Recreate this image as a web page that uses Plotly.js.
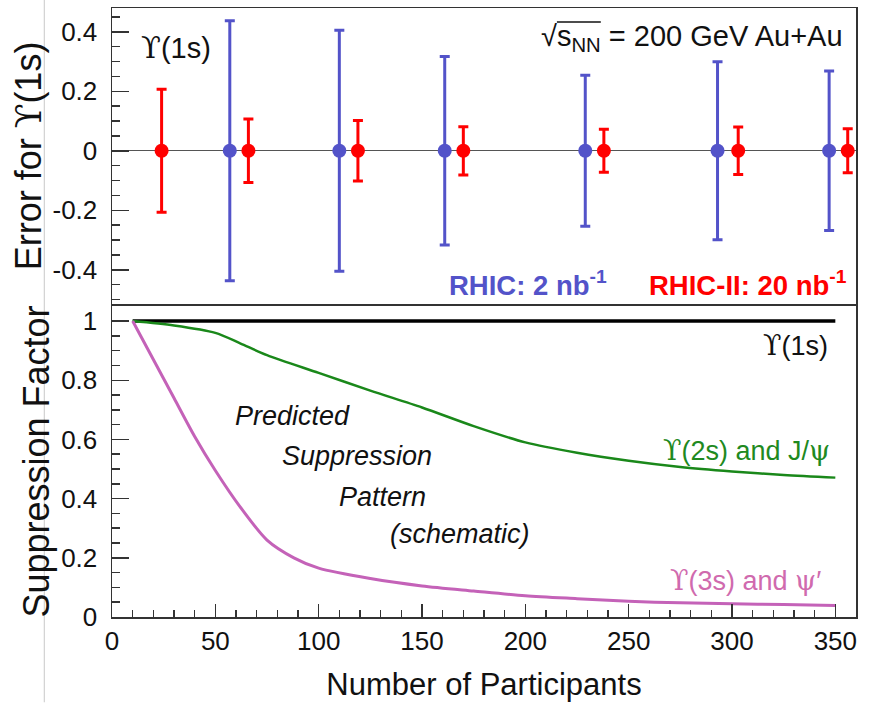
<!DOCTYPE html>
<html>
<head>
<meta charset="utf-8">
<script src="https://cdn.plot.ly/plotly-3.0.1.min.js"></script>
<style>html,body{margin:0;padding:0;background:#fff;}#chart{width:872px;height:706px;}</style>
</head>
<body>
<div id="chart"></div>
<script>
// ---- data ----
const rhicNpart = [57, 110, 161, 229, 293, 347];
const rhicErr = [0.437, 0.405, 0.317, 0.254, 0.299, 0.268];
const rhicVal = [0, 0, 0, 0, 0, 0];

const rhic2Npart = [24, 66, 119, 170, 238, 303, 356];
const rhic2Err = [0.207, 0.107, 0.102, 0.081, 0.072, 0.080, 0.074];
const rhic2Val = [0, 0, 0, 0, 0, 0, 0];

const ups1sNpart = [10, 350];
const ups1sSupp = [1, 1];

const ups2sNpart = [10, 30, 50, 62, 75, 100, 125, 150, 175, 200, 225, 250, 275, 300, 325, 350];
const ups2sSupp = [1.0, 0.985, 0.96, 0.925, 0.885, 0.825, 0.765, 0.708, 0.645, 0.59, 0.555, 0.528, 0.507, 0.492, 0.48, 0.471];

const ups3sNpart = [10, 20, 30, 40, 50, 62, 75, 88, 100, 125, 150, 175, 200, 225, 250, 275, 300, 325, 350];
const ups3sSupp = [1.0, 0.87, 0.74, 0.61, 0.495, 0.372, 0.26, 0.2, 0.165, 0.13, 0.105, 0.088, 0.072, 0.062, 0.053, 0.048, 0.045, 0.042, 0.039];

const xTickVals = [0, 50, 100, 150, 200, 250, 300, 350];
const xTickText = ['0', '50', '100', '150', '200', '250', '300', '350'];
const errTickVals = [-0.4, -0.2, 0, 0.2, 0.4];
const errTickText = ['-0.4', '-0.2', '0', '0.2', '0.4'];
const suppTickVals = [0, 0.2, 0.4, 0.6, 0.8, 1];
const suppTickText = ['0', '0.2', '0.4', '0.6', '0.8', '1'];

// ---- styling ----
const FONT = 'Liberation Sans, Arial, Helvetica, sans-serif';
const SERIF = 'DejaVu Serif';
const UPS = '<span style="font-family:' + SERIF + '">ϒ</span>';
const PSI = '<span style="font-family:' + SERIF + '">ψ</span>';
const BLUE = '#5353c9';
const RED = '#ff0000';
const GREEN = '#1a881a';
const MAGENTA = '#c462b8';
const AXC = '#333333';

const traces = [
  {x: rhicNpart, y: rhicVal, xaxis: 'x2', yaxis: 'y2', mode: 'markers', type: 'scatter',
   marker: {color: BLUE, size: 14},
   error_y: {type: 'data', array: rhicErr, visible: true, color: BLUE, thickness: 3, width: 5},
   showlegend: false},
  {x: rhic2Npart, y: rhic2Val, xaxis: 'x2', yaxis: 'y2', mode: 'markers', type: 'scatter',
   marker: {color: RED, size: 14},
   error_y: {type: 'data', array: rhic2Err, visible: true, color: RED, thickness: 3, width: 5},
   showlegend: false},
  {x: ups1sNpart, y: ups1sSupp, xaxis: 'x', yaxis: 'y', mode: 'lines', type: 'scatter',
   line: {color: '#000', width: 3.5}, showlegend: false},
  {x: ups2sNpart, y: ups2sSupp, xaxis: 'x', yaxis: 'y', mode: 'lines', type: 'scatter',
   line: {color: GREEN, width: 2.5, shape: 'spline', smoothing: 0.8}, showlegend: false},
  {x: ups3sNpart, y: ups3sSupp, xaxis: 'x', yaxis: 'y', mode: 'lines', type: 'scatter',
   line: {color: MAGENTA, width: 3, shape: 'spline', smoothing: 0.8}, showlegend: false}
];

const commonAxis = {showgrid: false, showline: true, mirror: true, linecolor: AXC, linewidth: 1.5,
  tickfont: {family: FONT, size: 26, color: '#111'}, tickcolor: AXC, tickwidth: 1.5};

const layout = {
  width: 872, height: 706,
  margin: {l: 112, r: 16, t: 8, b: 89},
  paper_bgcolor: '#fff', plot_bgcolor: '#fff',
  font: {family: FONT, color: '#111'},
  showlegend: false,
  xaxis: Object.assign({}, commonAxis, {
    domain: [0, 1], anchor: 'y', range: [0, 360], zeroline: false,
    tickmode: 'array', tickvals: xTickVals, ticktext: xTickText,
    ticks: 'inside', ticklen: 13, ticklabelstandoff: 0,
    minor: {ticks: 'inside', ticklen: 7, dtick: 10, tick0: 0, tickcolor: AXC, tickwidth: 1.5, showgrid: false},
    title: {text: 'Number of Participants', font: {family: FONT, size: 31, color: '#111'}, standoff: 18}
  }),
  xaxis2: Object.assign({}, commonAxis, {
    domain: [0, 1], anchor: 'y2', matches: 'x', range: [0, 360], zeroline: false,
    showticklabels: false, ticks: ''
  }),
  yaxis: Object.assign({}, commonAxis, {
    domain: [0, 0.5107], anchor: 'x', range: [0, 1.051], zeroline: false,
    tickmode: 'array', tickvals: suppTickVals, ticktext: suppTickText,
    ticks: 'inside', ticklen: 17, ticklabelstandoff: 8,
    minor: {ticks: 'inside', ticklen: 8, dtick: 0.05, tick0: 0, tickcolor: AXC, tickwidth: 1.5, showgrid: false},
    title: {text: 'Suppression Factor', font: {family: FONT, size: 36, color: '#111'}, standoff: 0}
  }),
  yaxis2: Object.assign({}, commonAxis, {
    domain: [0.514, 1], anchor: 'x2', range: [-0.515, 0.48],
    zeroline: true, zerolinecolor: '#555', zerolinewidth: 1.2,
    tickmode: 'array', tickvals: errTickVals, ticktext: errTickText,
    ticks: 'inside', ticklen: 17, ticklabelstandoff: 8,
    minor: {ticks: 'inside', ticklen: 8, dtick: 0.05, tick0: 0, tickcolor: AXC, tickwidth: 1.5, showgrid: false},
    title: {text: 'Error for ' + UPS + '(1s)', font: {family: FONT, size: 36, color: '#111'}, standoff: 0}
  }),
  shapes: [
    {type: 'line', xref: 'paper', yref: 'paper', x0: -0.091, x1: -0.091, y0: -0.14, y1: 1.02,
     line: {color: '#c8c8c8', width: 1}},
    // radical bar over s_NN
    {type: 'line', xref: 'paper', yref: 'paper', x0: 0.598, x1: 0.657, y0: 0.977, y1: 0.977,
     line: {color: '#111', width: 1.5}}
  ],
  annotations: [
    {xref: 'x2', yref: 'y2', x: 31, y: 0.345, text: UPS + '(1s)', showarrow: false,
     font: {family: FONT, size: 29, color: '#111'}},
    {xref: 'x2', yref: 'y2', x: 354.6, y: 0.379, xanchor: 'right', text: '√s<sub>NN</sub> = 200 GeV Au+Au', showarrow: false,
     font: {family: FONT, size: 29, color: '#111'}},
    {xref: 'x2', yref: 'y2', x: 162, y: -0.445, xanchor: 'left', text: '<b>RHIC: 2 nb<sup>-1</sup></b>', showarrow: false,
     font: {family: FONT, size: 27.5, color: BLUE}},
    {xref: 'x2', yref: 'y2', x: 258.8, y: -0.445, xanchor: 'left', text: '<b>RHIC-II: 20 nb<sup>-1</sup></b>', showarrow: false,
     font: {family: FONT, size: 27.5, color: RED}},
    {xref: 'x', yref: 'y', x: 347.4, y: 0.919, xanchor: 'right', text: UPS + '(1s)', showarrow: false,
     font: {family: FONT, size: 27, color: '#111'}},
    {xref: 'x', yref: 'y', x: 348.3, y: 0.564, xanchor: 'right', text: UPS + '(2s) and J/' + PSI, showarrow: false,
     font: {family: FONT, size: 27, color: '#1f8a1f'}},
    {xref: 'x', yref: 'y', x: 344, y: 0.124, xanchor: 'right', text: UPS + '(3s) and ' + PSI + '′', showarrow: false,
     font: {family: FONT, size: 27, color: '#d06aae'}},
    {xref: 'x', yref: 'y', x: 58.5, y: 0.68, xanchor: 'left', text: '<i>Predicted</i>', showarrow: false,
     font: {family: FONT, size: 27, color: '#111'}},
    {xref: 'x', yref: 'y', x: 81.3, y: 0.545, xanchor: 'left', text: '<i>Suppression</i>', showarrow: false,
     font: {family: FONT, size: 27, color: '#111'}},
    {xref: 'x', yref: 'y', x: 108.9, y: 0.405, xanchor: 'left', text: '<i>Pattern</i>', showarrow: false,
     font: {family: FONT, size: 27, color: '#111'}},
    {xref: 'x', yref: 'y', x: 133.5, y: 0.279, xanchor: 'left', text: '<i>(schematic)</i>', showarrow: false,
     font: {family: FONT, size: 27, color: '#111'}}
  ]
};

Plotly.newPlot('chart', traces, layout, {staticPlot: true, displayModeBar: false});
</script>
</body>
</html>
